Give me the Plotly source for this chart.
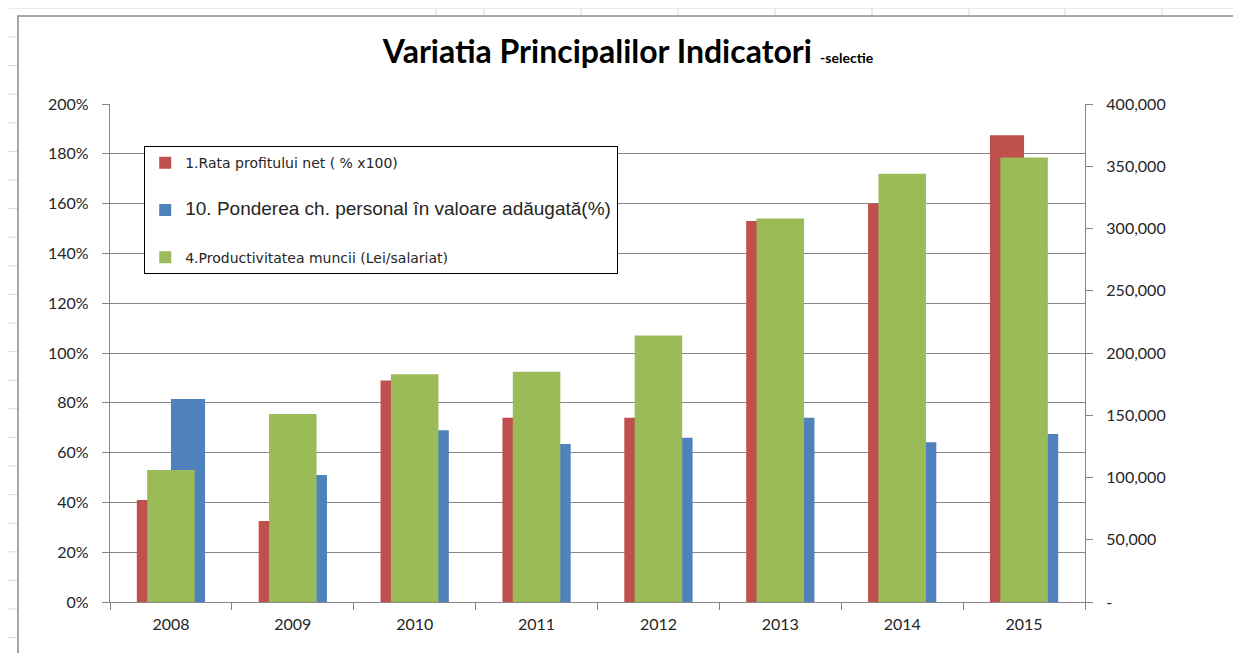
import plotly.graph_objects as go

years = ["2008", "2009", "2010", "2011", "2012", "2013", "2014", "2015"]

rata_profit = [0.41, 0.325, 0.89, 0.74, 0.74, 1.53, 1.60, 1.875]
pondere_personal = [0.815, 0.51, 0.69, 0.635, 0.66, 0.74, 0.642, 0.675]
productivitate = [106000, 151000, 183000, 185000, 214000, 308000, 344000, 357000]

names = ["1.Rata profitului net ( % x100)",
         "10. Ponderea ch. personal în valoare adăugată(%)",
         "4.Productivitatea muncii (Lei/salariat)"]

right_ticks = [0, 50000, 100000, 150000, 200000, 250000, 300000, 350000, 400000]
right_labels = ["-", "50,000", "100,000", "150,000", "200,000",
                "250,000", "300,000", "350,000", "400,000"]

red = "#C0504D"
blue = "#4F81BD"
green = "#9BBB59"
grid = "#868686"
body_font = "Lato, 'Open Sans', sans-serif"

# page pixels -> paper coords (page has an 8px body margin)
def px(x):
    return (x - 110) / 975

def py(y):
    return (602 - y) / 498

fig = go.Figure()

fig.add_trace(go.Bar(
    name=names[0], x=years, y=rata_profit, marker_color=red, marker_line_width=0,
    width=0.28, offset=-0.28, legendgroup="a"))
fig.add_trace(go.Bar(
    name="<span style='font-family:Liberation Sans, Arial; font-size:19px'>" + names[1] + "</span>",
    x=years, y=pondere_personal, marker_color=blue, marker_line_width=0,
    width=0.28, offset=0.0, legendgroup="b"))
fig.add_trace(go.Bar(
    name=names[2], x=years, y=productivitate, marker_color=green, marker_line_width=0,
    width=0.39, offset=-0.195, yaxis="y2", legendgroup="c"))

fig.update_layout(
    width=1241, height=653,
    margin=dict(l=102, r=164, t=96, b=59),
    paper_bgcolor="white", plot_bgcolor="white",
    barmode="overlay",
    font=dict(family=body_font, size=16, color="#262626"),
    title=dict(
        text="<b>Variatia Principalilor Indicatori</b> <span style='font-size:14px'><b>-selectie</b></span>",
        x=px(628), xanchor="center", xref="paper", y=1 - 44 / 653, yanchor="middle",
        font=dict(family="Lato, sans-serif", size=32, color="black")),
    legend=dict(
        x=px(144), y=py(146), xanchor="left", yanchor="top",
        bgcolor="white", bordercolor="black", borderwidth=1.2,
        font=dict(family="'DejaVu Sans', sans-serif", size=14, color="#262626"),
        tracegroupgap=26, itemsizing="constant"),
    showlegend=True,
)

fig.update_xaxes(
    type="category", tickson="boundaries", ticks="outside", ticklen=7, tickcolor=grid,
    showline=True, linecolor=grid, linewidth=1.3, showgrid=False,
    ticklabelstandoff=8, tickfont=dict(size=16, color="#262626"))

fig.update_layout(
    yaxis=dict(
        range=[0, 2], dtick=0.2, tickformat=".0%", ticks="outside", ticklen=7,
        tickcolor=grid, showline=True, linecolor=grid, linewidth=1.3,
        showgrid=True, gridcolor=grid, gridwidth=1.2, zeroline=False,
        ticklabelstandoff=10, tickfont=dict(size=16, color="#262626")),
    yaxis2=dict(
        range=[0, 400000], overlaying="y", side="right",
        tickvals=right_ticks, ticktext=right_labels, ticks="outside", ticklen=7,
        tickcolor=grid, showline=True, linecolor=grid, linewidth=1.3,
        showgrid=False, zeroline=False,
        ticklabelstandoff=10, tickfont=dict(size=16, color="#262626")),
)

# worksheet cells behind the chart
cell = "#DADADA"
shapes = [dict(type="line", xref="paper", yref="paper",
               x0=px(8), x1=px(1250), y0=py(8), y1=py(8),
               line=dict(color=cell, width=1), layer="below")]
for xv in [436, 484, 581, 678, 775, 872, 969, 1065, 1162]:
    shapes.append(dict(type="line", xref="paper", yref="paper",
                       x0=px(xv), x1=px(xv), y0=py(8), y1=py(16),
                       line=dict(color=cell, width=1), layer="below"))
yv = 37
while yv < 653:
    shapes.append(dict(type="line", xref="paper", yref="paper",
                       x0=px(8), x1=px(18), y0=py(yv), y1=py(yv),
                       line=dict(color=cell, width=1), layer="below"))
    yv += 28.6
# chart frame
shapes.append(dict(type="rect", xref="paper", yref="paper",
                   x0=px(18), x1=px(1260), y0=py(670), y1=py(16),
                   line=dict(color="#8C8C8C", width=1.5), layer="below"))
fig.update_layout(shapes=shapes)

fig.write_html("out.html")
